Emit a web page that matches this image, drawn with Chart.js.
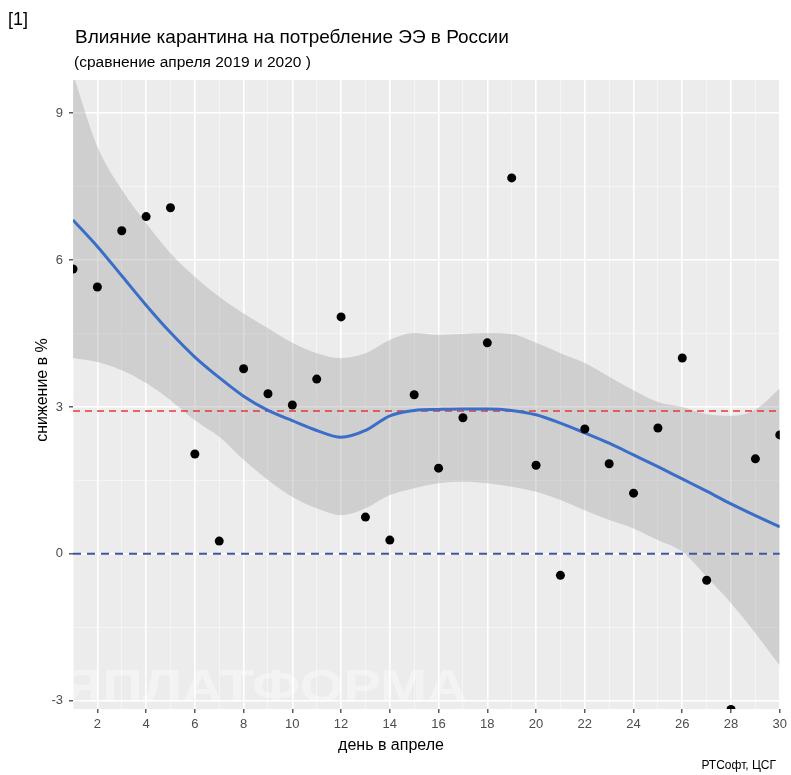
<!DOCTYPE html>
<html lang="ru">
<head>
<meta charset="utf-8">
<title>Влияние карантина на потребление ЭЭ в России</title>
<script src="https://cdn.jsdelivr.net/npm/chart.js@4.4.1/dist/chart.umd.min.js"></script>
<style>
    body { margin: 0; background: #ffffff; }
    #chartBox { width: 791px; height: 775px; }
</style>
</head>
<body>
<div id="chartBox"><canvas id="quarantineChart" width="791" height="775"></canvas></div>
<script>
// день апреля
const days = [1, 2, 3, 4, 5, 6, 7, 8, 9, 10, 11, 12, 13, 14, 15, 16, 17, 18, 19, 20, 21, 22, 23, 24, 25, 26, 27, 28, 29, 30];
// снижение потребления, % (точки)
const decline = [5.82, 5.45, 6.60, 6.89, 7.07, 2.04, 0.26, 3.78, 3.27, 3.04, 3.57, 4.84, 0.75, 0.28, 3.25,
                 1.75, 2.78, 4.31, 7.68, 1.81, -0.44, 2.55, 1.84, 1.24, 2.57, 4.00, -0.54, -3.18, 1.94, 2.43];
// сглаженная кривая (loess) и доверительный интервал
const smooth = [6.82, 6.28, 5.68, 5.08, 4.52, 4.02, 3.60, 3.22, 2.93, 2.72, 2.52, 2.38, 2.52, 2.82, 2.93,
                2.95, 2.96, 2.96, 2.93, 2.84, 2.67, 2.47, 2.26, 2.02, 1.78, 1.53, 1.28, 1.02, 0.78, 0.55];
const bandUpper = [9.80, 8.32, 7.44, 6.76, 6.14, 5.66, 5.25, 4.91, 4.61, 4.31, 4.10, 4.00, 4.10, 4.37, 4.51,
                   4.47, 4.49, 4.51, 4.49, 4.31, 4.10, 3.90, 3.62, 3.34, 3.10, 3.00, 2.85, 2.82, 2.95, 3.38];
const bandLower = [4.00, 3.92, 3.75, 3.49, 3.14, 2.73, 2.39, 1.92, 1.51, 1.16, 0.93, 0.79, 0.93, 1.20, 1.34,
                   1.44, 1.47, 1.44, 1.37, 1.27, 1.10, 0.89, 0.69, 0.52, 0.28, 0.04, -0.47, -1.01, -1.62, -2.28];
// горизонтальные линии
const meanLevel = 2.92;
const zeroLevel = 0;
// деления оси Y
const yTicks = [-3, -1.5, 0, 1.5, 3, 4.5, 6, 7.5, 9];

function toPoints(values) {
    return days.map((d, i) => ({ x: d, y: values[i] }));
}

function hLine(level) {
    return [{ x: days[0], y: level }, { x: days[days.length - 1], y: level }];
}

// фон панели, водяной знак и подписи
const decorPlugin = {
    id: 'decor',
    beforeDraw(chart) {
        const { ctx, chartArea: a } = chart;
        ctx.save();
        ctx.fillStyle = '#ececec';
        ctx.fillRect(a.left, a.top, a.right - a.left, a.bottom - a.top);
        ctx.restore();
    },
    beforeDatasetsDraw(chart) {
        const { ctx, chartArea: a } = chart;
        ctx.save();
        ctx.beginPath();
        ctx.rect(a.left, a.top, a.right - a.left, a.bottom - a.top);
        ctx.clip();
        ctx.fillStyle = 'rgba(255,255,255,0.4)';
        ctx.font = 'bold 46px "Liberation Sans", Arial, sans-serif';
        ctx.textBaseline = 'alphabetic';
        ctx.translate(62, 702);
        ctx.scale(1.22, 1);
        ctx.fillText('ЯПЛАТФОРМА', 0, 0);
        ctx.restore();
    },
    afterDraw(chart) {
        const { ctx } = chart;
        ctx.save();
        ctx.fillStyle = '#000000';
        ctx.textBaseline = 'alphabetic';
        ctx.textAlign = 'left';
        ctx.font = '18px "Liberation Sans", Arial, sans-serif';
        ctx.fillText('[1]', 8, 25);
        ctx.font = '19px "Liberation Sans", Arial, sans-serif';
        ctx.fillText('Влияние карантина на потребление ЭЭ в России', 75, 43);
        ctx.font = '15.5px "Liberation Sans Narrow", "Liberation Sans", sans-serif';
        ctx.fillText('(сравнение апреля 2019 и 2020 )', 74, 67);

        ctx.font = '16px "Liberation Sans", Arial, sans-serif';
        ctx.textAlign = 'center';
        ctx.fillText('день в апреле', 391, 750);

        ctx.save();
        ctx.translate(47, 390);
        ctx.rotate(-Math.PI / 2);
        ctx.fillText('снижение в %', 0, 0);
        ctx.restore();

        ctx.font = '12px "Liberation Sans", Arial, sans-serif';
        ctx.textAlign = 'right';
        ctx.fillText('РТСофт, ЦСГ', 776, 769);
        ctx.restore();
    }
};

document.addEventListener('DOMContentLoaded', function() {
    const ctx = document.getElementById('quarantineChart').getContext('2d');
    new Chart(ctx, {
        type: 'line',
        data: {
            datasets: [
                {
                    label: 'нижняя граница',
                    data: toPoints(bandLower),
                    borderWidth: 0,
                    pointRadius: 0,
                    fill: false,
                    cubicInterpolationMode: 'monotone',
                    order: 10
                },
                {
                    label: 'верхняя граница',
                    data: toPoints(bandUpper),
                    borderWidth: 0,
                    pointRadius: 0,
                    backgroundColor: 'rgba(160,160,160,0.38)',
                    fill: '-1',
                    cubicInterpolationMode: 'monotone',
                    order: 9
                },
                {
                    label: 'среднее',
                    data: hLine(meanLevel),
                    borderColor: '#e3393c',
                    borderWidth: 1.5,
                    borderDash: [7, 5],
                    pointRadius: 0,
                    order: 4
                },
                {
                    label: 'ноль',
                    data: hLine(zeroLevel),
                    borderColor: '#3f55a6',
                    borderWidth: 2,
                    borderDash: [8, 6],
                    pointRadius: 0,
                    order: 3
                },
                {
                    label: 'тренд',
                    data: toPoints(smooth),
                    borderColor: '#3a6ec8',
                    borderWidth: 3,
                    pointRadius: 0,
                    cubicInterpolationMode: 'monotone',
                    order: 2
                },
                {
                    label: 'снижение',
                    data: toPoints(decline),
                    showLine: false,
                    pointRadius: 4.5,
                    pointBackgroundColor: '#000000',
                    pointBorderWidth: 0,
                    order: 1
                }
            ]
        },
        options: {
            responsive: false,
            animation: false,
            layout: { padding: { top: 80, right: 10, left: 0, bottom: 0 } },
            plugins: {
                legend: { display: false },
                tooltip: { enabled: false }
            },
            scales: {
                x: {
                    type: 'linear',
                    min: 1,
                    max: 30,
                    afterFit: function(scale) { scale.height = 66; },
                    border: { display: false },
                    grid: {
                        color: function(c) { return c.tick && c.tick.value % 2 === 0 ? '#ffffff' : 'rgba(255,255,255,0.6)'; },
                        lineWidth: function(c) { return c.tick && c.tick.value % 2 === 0 ? 1.6 : 0.8; },
                        tickColor: function(c) { return c.tick && c.tick.value % 2 === 0 ? '#333333' : 'rgba(0,0,0,0)'; },
                        tickLength: 4,
                        tickWidth: 1.2
                    },
                    ticks: {
                        stepSize: 1,
                        autoSkip: false,
                        maxRotation: 0,
                        padding: 4,
                        color: '#4d4d4d',
                        font: { family: '"Liberation Sans", Arial, sans-serif', size: 13 },
                        callback: function(value) { return value % 2 === 0 ? value : ''; }
                    }
                },
                y: {
                    min: -3.17,
                    max: 9.68,
                    afterFit: function(scale) { scale.width = 73; },
                    afterBuildTicks: function(scale) { scale.ticks = yTicks.map(v => ({ value: v })); },
                    border: { display: false },
                    grid: {
                        color: function(c) { return c.tick && c.tick.value % 3 === 0 ? '#ffffff' : 'rgba(255,255,255,0.6)'; },
                        lineWidth: function(c) { return c.tick && c.tick.value % 3 === 0 ? 1.6 : 0.8; },
                        tickColor: function(c) { return c.tick && c.tick.value % 3 === 0 ? '#333333' : 'rgba(0,0,0,0)'; },
                        tickLength: 4,
                        tickWidth: 1.2
                    },
                    ticks: {
                        padding: 6,
                        color: '#4d4d4d',
                        font: { family: '"Liberation Sans", Arial, sans-serif', size: 13 },
                        callback: function(value) { return value % 3 === 0 ? value : ''; }
                    }
                }
            }
        },
        plugins: [decorPlugin]
    });
});
</script>
</body>
</html>
